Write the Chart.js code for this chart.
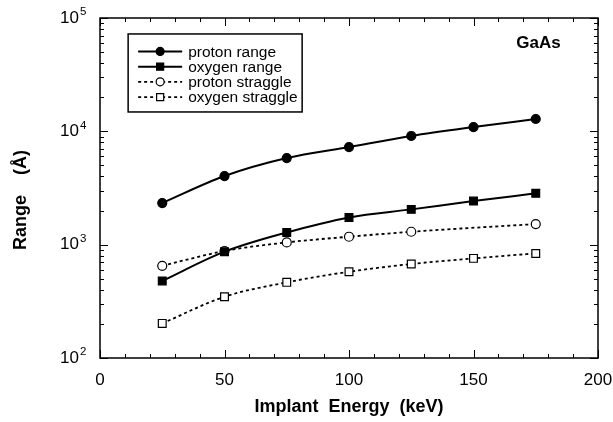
<!DOCTYPE html>
<html><head><meta charset="utf-8">
<script src="https://cdn.jsdelivr.net/npm/chart.js@4/dist/chart.umd.min.js"></script>
<style>html,body{margin:0;padding:0;background:#fff}#wrap{width:613px;height:422px}</style>
</head><body><div id="wrap"><canvas id="c" width="613" height="422"></canvas></div>
<script>
const energies = [25, 50, 75, 100, 125, 150, 175];
const protonRange = [2330, 4030, 5810, 7270, 9100, 10900, 12850];
const oxygenRange = [478, 867, 1282, 1740, 2048, 2425, 2838];
const protonStraggle = [651, 879, 1047, 1175, 1300, null, 1520];
const oxygenStraggle = [202, 347, 465, 577, 675, 757, 837];
const seriesNames = ['proton range', 'oxygen range', 'proton straggle', 'oxygen straggle'];
const xTicks = [0, 50, 100, 150, 200];
const yDecades = [2, 3, 4, 5];
const FONT = '"Liberation Sans", Arial, Helvetica, sans-serif';

function pts(vals){ return energies.map((e,i)=>({x:e,y:vals[i]})); }

const common = {showLine:true, borderColor:'#000', pointBorderColor:'#000', pointBorderWidth:1.2,
  cubicInterpolationMode:'monotone', spanGaps:true, borderWidth:2};
const datasets = [
  Object.assign({}, common, {label:seriesNames[0], data:pts(protonRange), pointStyle:'circle', pointRadius:4.5, backgroundColor:'#000', pointBackgroundColor:'#000'}),
  Object.assign({}, common, {label:seriesNames[1], data:pts(oxygenRange), pointStyle:'rect', pointRadius:5.5, backgroundColor:'#000', pointBackgroundColor:'#000'}),
  Object.assign({}, common, {label:seriesNames[2], data:pts(protonStraggle), pointStyle:'circle', pointRadius:4.5, backgroundColor:'#fff', pointBackgroundColor:'#fff', borderDash:[3,3], borderWidth:1.8}),
  Object.assign({}, common, {label:seriesNames[3], data:pts(oxygenStraggle), pointStyle:'rect', pointRadius:5.5, backgroundColor:'#fff', pointBackgroundColor:'#fff', borderDash:[3,3], borderWidth:1.8}),
];

const framePlugin = {
  id:'frame',
  afterDraw(chart){
    const ctx = chart.ctx, a = chart.chartArea, xs = chart.scales.x, ys = chart.scales.y;
    ctx.save();
    ctx.strokeStyle = '#000'; ctx.lineWidth = 1.5;
    ctx.strokeRect(a.left, a.top, a.right-a.left, a.bottom-a.top);
    ctx.lineWidth = 1;
    ctx.beginPath();
    for (let v = 0; v <= 200; v += 10) {
      const px = Math.round(xs.getPixelForValue(v)) + 0.5;
      const L = (v % 50 === 0) ? 8 : 4;
      ctx.moveTo(px, a.bottom); ctx.lineTo(px, a.bottom - L);
      ctx.moveTo(px, a.top); ctx.lineTo(px, a.top + L);
    }
    for (let d = yDecades[0]; d < yDecades[yDecades.length-1]; d++) {
      for (let m = 1; m <= 10; m++) {
        const v = m * Math.pow(10, d);
        const py = Math.round(ys.getPixelForValue(v)) + 0.5;
        const L = (m === 1 || m === 10) ? 8 : 4;
        ctx.moveTo(a.left, py); ctx.lineTo(a.left + L, py);
        ctx.moveTo(a.right, py); ctx.lineTo(a.right - L, py);
      }
    }
    ctx.stroke();
    // y tick labels with superscript
    ctx.fillStyle = '#000';
    ctx.textBaseline = 'middle';
    yDecades.forEach(d => {
      const py = ys.getPixelForValue(Math.pow(10, d));
      ctx.font = '17px ' + FONT;
      ctx.textAlign = 'right';
      ctx.fillText('10', a.left - 21, py);
      ctx.font = '11.5px ' + FONT;
      ctx.textAlign = 'left';
      ctx.fillText(String(d), a.left - 20, py - 6);
    });
    // y axis title
    ctx.save();
    ctx.font = 'bold 18px ' + FONT;
    ctx.textAlign = 'center';
    ctx.translate(21, ys.getPixelForValue(2480));
    ctx.rotate(-Math.PI / 2);
    ctx.fillText('Range    (Å)', 0, 0);
    ctx.restore();
    // GaAs label
    ctx.font = 'bold 17px ' + FONT;
    ctx.textAlign = 'right';
    ctx.fillText('GaAs', xs.getPixelForValue(185), ys.getPixelForValue(60100));
    // legend
    const lx = xs.getPixelForValue(11.3), ly = ys.getPixelForValue(72300);
    const lw = 174, lh = 78;
    ctx.lineWidth = 1.5; ctx.setLineDash([]);
    ctx.strokeRect(lx, ly, lw, lh);
    ctx.font = '15.5px ' + FONT;
    ctx.textAlign = 'left';
    chart.data.datasets.forEach((ds, i) => {
      const y = ly + 17.5 + i * 15.2;
      ctx.save();
      ctx.lineWidth = ds.borderWidth;
      ctx.setLineDash(ds.borderDash || []);
      ctx.beginPath(); ctx.moveTo(lx + 10, y); ctx.lineTo(lx + 54, y); ctx.stroke();
      ctx.restore();
      ctx.save();
      ctx.fillStyle = ds.pointBackgroundColor; ctx.strokeStyle = '#000'; ctx.lineWidth = 1.2;
      Chart.helpers.drawPoint(ctx, {pointStyle: ds.pointStyle, radius: ds.pointRadius - 0.5, borderWidth: 1.2}, lx + 32, y);
      ctx.restore();
      ctx.fillStyle = '#000';
      ctx.fillText(ds.label, lx + 60, y + 1);
    });
    ctx.restore();
  }
};

new Chart(document.getElementById('c'), {
  type:'scatter',
  data:{datasets},
  options:{
    responsive:false, animation:false, devicePixelRatio:1,
    layout:{padding:{top:18, right:15, left:0, bottom:0}},
    plugins:{legend:{display:false}, tooltip:{enabled:false}},
    scales:{
      x:{type:'linear', min:0, max:200, afterBuildTicks(s){ s.ticks = xTicks.map(v=>({value:v})); },
        grid:{display:false, drawTicks:false}, border:{display:false},
        ticks:{color:'#000', font:{family:FONT, size:17}, padding:12, maxRotation:0},
        title:{display:true, text:'Implant  Energy  (keV)', color:'#000', font:{family:FONT, size:18, weight:'bold'}, padding:{top:4, bottom:4}},
        afterFit(s){ s.height = 64; s.paddingLeft = 0; s.paddingRight = 0; }
      },
      y:{type:'logarithmic', min:100, max:100000,
        grid:{display:false, drawTicks:false}, border:{display:false},
        ticks:{display:false},
        title:{display:false},
        afterFit(s){ s.width = 100; s.paddingTop = 0; s.paddingBottom = 0; }
      }
    }
  },
  plugins:[framePlugin]
});
</script></body></html>
